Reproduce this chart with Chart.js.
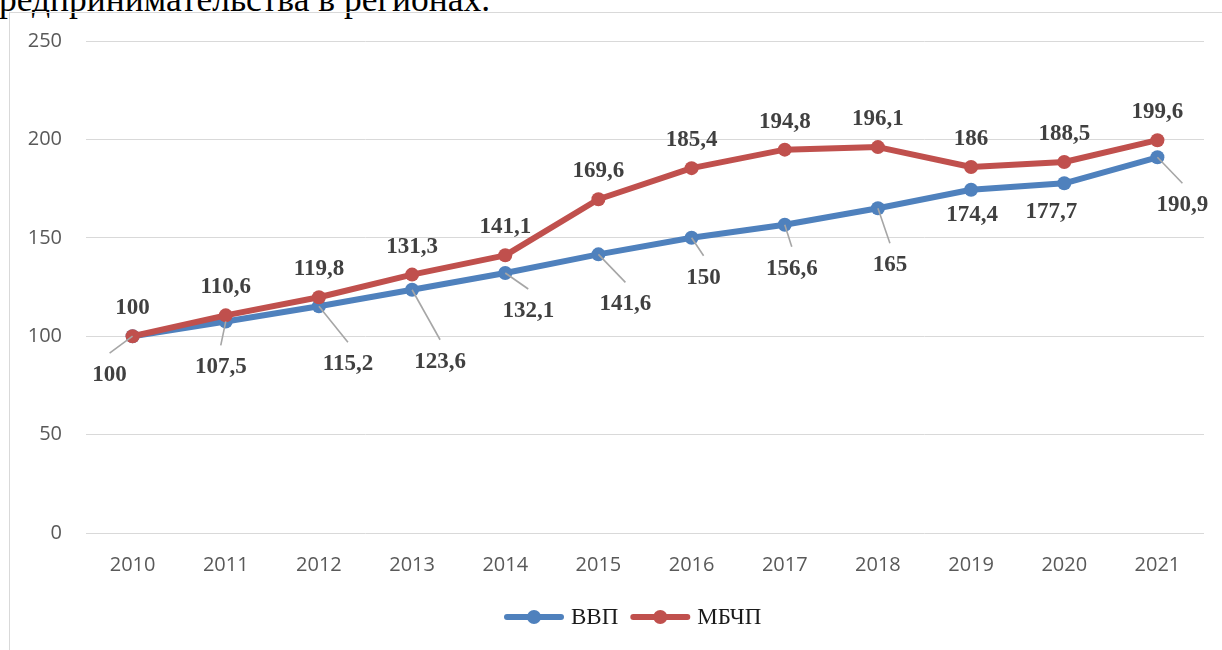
<!DOCTYPE html>
<html><head><meta charset="utf-8">
<script src="https://cdn.jsdelivr.net/npm/chart.js@4.4.0/dist/chart.umd.min.js"></script>
<style>
html,body{margin:0;padding:0;background:#fff;overflow:hidden;}
#wrap{position:relative;width:1222px;height:650px;overflow:hidden;background:#fff;}
#frame{position:absolute;left:9px;top:12px;width:1300px;height:700px;border:1px solid #d9d9d9;box-sizing:border-box;}
#head{position:absolute;left:-1px;top:-22px;font-family:'Liberation Serif';font-size:35.5px;color:#000;white-space:nowrap;}
canvas{position:absolute;left:0;top:0;}
</style></head>
<body><div id="wrap"><div id="head">редпринимательства в регионах.</div><div id="frame"></div><canvas id="c" width="1222" height="650"></canvas></div>
<script>
const categories = ['2010','2011','2012','2013','2014','2015','2016','2017','2018','2019','2020','2021'];
const vvp   = [100, 107.5, 115.2, 123.6, 132.1, 141.6, 150, 156.6, 165, 174.4, 177.7, 190.9];
const mbchp = [100, 110.6, 119.8, 131.3, 141.1, 169.6, 185.4, 194.8, 196.1, 186, 188.5, 199.6];
const seriesNames = ['ВВП', 'МБЧП'];
const yMin = 0, yMax = 250, yStep = 50;
// label offsets (pixels from point) for the ВВП labels
const vvpLabelOffsets = [[-23,37],[-5,44],[29,56],[28,70],[23,36],[27,48],[12,38],[7,42],[12,55],[1,23],[-13,27],[25,46]];
const mbchpLabelOffset = [0,-30];

const BLUE = '#4f81bd', RED = '#c0504d';
const fmt = v => String(v).replace('.', ',');

const labelPlugin = {
  id: 'lbl',
  afterDatasetsDraw(chart) {
    const ctx = chart.ctx;
    ctx.save();
    ctx.font = 'bold 23px "Liberation Serif"';
    ctx.textAlign = 'center';
    ctx.textBaseline = 'alphabetic';
    const mb = chart.getDatasetMeta(0);
    mb.data.forEach((pt, i) => {
      const [dx, dy] = vvpLabelOffsets[i];
      const lx = pt.x + dx, ly = pt.y + dy;
      if (dy > 30) {
        ctx.strokeStyle = '#a6a6a6'; ctx.lineWidth = 1.6;
        ctx.beginPath(); ctx.moveTo(pt.x, pt.y); ctx.lineTo(lx, ly - 20); ctx.stroke();
      }
      ctx.fillStyle = '#404040';
      ctx.fillText(fmt(vvp[i]), lx, ly + 8);
    });
    const mr = chart.getDatasetMeta(1);
    mr.data.forEach((pt, i) => {
      ctx.fillStyle = '#404040';
      ctx.fillText(fmt(mbchp[i]), pt.x + mbchpLabelOffset[0], pt.y + mbchpLabelOffset[1] + 8);
    });
    ctx.restore();
  },
  afterDraw(chart) {
    const ctx = chart.ctx;
    ctx.save();
    ctx.font = '23px "Liberation Serif"';
    ctx.textBaseline = 'middle';
    ctx.textAlign = 'left';
    const y = 617;
    let x = 507;
    const cols = [BLUE, RED];
    seriesNames.forEach((name, i) => {
      ctx.strokeStyle = cols[i]; ctx.lineWidth = 6; ctx.lineCap = 'round';
      ctx.beginPath(); ctx.moveTo(x, y); ctx.lineTo(x + 54, y); ctx.stroke();
      ctx.fillStyle = cols[i];
      ctx.beginPath(); ctx.arc(x + 27, y, 7, 0, Math.PI * 2); ctx.fill();
      ctx.fillStyle = '#1a1a1a';
      ctx.fillText(name, x + 64, y + 1);
      x += 64 + ctx.measureText(name).width + 15;
    });
    ctx.restore();
  }
};

new Chart(document.getElementById('c'), {
  type: 'line',
  data: {
    labels: categories,
    datasets: [
      { label: seriesNames[0], data: vvp, borderColor: BLUE, backgroundColor: BLUE,
        borderWidth: 6, pointRadius: 7, pointHoverRadius: 7, pointBackgroundColor: BLUE, pointBorderColor: BLUE,
        pointBorderWidth: 0, tension: 0, order: 1, borderCapStyle: 'round', borderJoinStyle: 'round', clip: false },
      { label: seriesNames[1], data: mbchp, borderColor: RED, backgroundColor: RED,
        borderWidth: 6, pointRadius: 7, pointHoverRadius: 7, pointBackgroundColor: RED, pointBorderColor: RED,
        pointBorderWidth: 0, tension: 0, order: 0, borderCapStyle: 'round', borderJoinStyle: 'round', clip: false }
    ]
  },
  options: {
    responsive: false, animation: false, devicePixelRatioForce: 1,
    layout: { padding: { top: 41, right: 18, left: 0, bottom: 0 } },
    plugins: { legend: { display: false }, tooltip: { enabled: false } },
    scales: {
      x: {
        offset: true,
        grid: { display: false, drawTicks: false },
        border: { display: false },
        ticks: { color: '#595959', font: { family: 'Open Sans', size: 20 }, padding: 20, maxRotation: 0 },
        afterFit(s) { s.height = 117; }
      },
      y: {
        min: yMin, max: yMax,
        grid: { color: '#d9d9d9', lineWidth: 1, drawTicks: false },
        border: { display: false },
        ticks: { stepSize: yStep, color: '#595959', font: { family: 'Open Sans', size: 20 }, padding: 24 },
        afterFit(s) { s.width = 86; }
      }
    }
  },
  plugins: [labelPlugin]
});
</script>
</body></html>
